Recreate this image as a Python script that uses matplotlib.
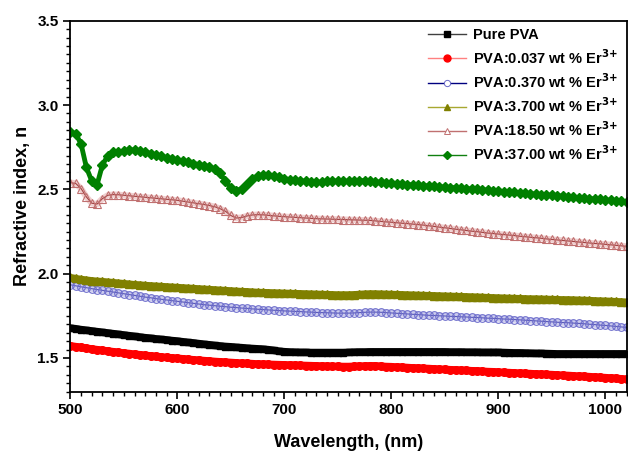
import numpy as np
import matplotlib
matplotlib.use('Agg')
import matplotlib.pyplot as plt
from matplotlib.ticker import MultipleLocator
from matplotlib.lines import Line2D

plt.rcParams['font.family'] = ['Liberation Sans', 'DejaVu Sans']
plt.rcParams['font.weight'] = 'bold'
plt.rcParams['mathtext.default'] = 'bf'

# wavelength grid (nm), 5 nm steps
wavelength = np.arange(500, 1021, 5)

pure_pva = [1.677, 1.673, 1.668, 1.664, 1.660, 1.656, 1.652, 1.648, 1.644, 1.640,
            1.636, 1.632, 1.628, 1.624, 1.620, 1.617, 1.613, 1.610, 1.607, 1.603,
            1.600, 1.596, 1.592, 1.589, 1.585, 1.581, 1.578, 1.574, 1.571, 1.568,
            1.566, 1.563, 1.561, 1.558, 1.556, 1.554, 1.552, 1.549, 1.545, 1.540,
            1.537, 1.535, 1.534, 1.533, 1.533, 1.532, 1.532, 1.532, 1.532, 1.532,
            1.532, 1.532, 1.533, 1.534, 1.535, 1.535, 1.536, 1.536, 1.536, 1.536,
            1.536, 1.536, 1.536, 1.536, 1.536, 1.536, 1.536, 1.536, 1.536, 1.536,
            1.536, 1.535, 1.535, 1.535, 1.534, 1.534, 1.534, 1.533, 1.533, 1.533,
            1.533, 1.532, 1.531, 1.530, 1.530, 1.529, 1.528, 1.527, 1.527, 1.526,
            1.525, 1.524, 1.524, 1.524, 1.524, 1.524, 1.524, 1.524, 1.524, 1.524,
            1.524, 1.524, 1.524, 1.524, 1.524]

er_0037 = [1.572, 1.567, 1.563, 1.558, 1.553, 1.549, 1.545, 1.541, 1.537, 1.533,
           1.529, 1.526, 1.522, 1.519, 1.515, 1.512, 1.509, 1.506, 1.503, 1.500,
           1.498, 1.495, 1.492, 1.489, 1.487, 1.484, 1.482, 1.479, 1.477, 1.475,
           1.473, 1.471, 1.469, 1.468, 1.466, 1.464, 1.463, 1.462, 1.461, 1.460,
           1.459, 1.458, 1.457, 1.456, 1.455, 1.454, 1.453, 1.452, 1.451, 1.450,
           1.450, 1.449, 1.449, 1.450, 1.451, 1.452, 1.453, 1.453, 1.451, 1.449,
           1.448, 1.446, 1.445, 1.443, 1.441, 1.440, 1.438, 1.437, 1.435, 1.433,
           1.432, 1.430, 1.429, 1.427, 1.426, 1.424, 1.423, 1.421, 1.419, 1.418,
           1.416, 1.414, 1.413, 1.411, 1.410, 1.408, 1.407, 1.405, 1.404, 1.402,
           1.401, 1.399, 1.397, 1.396, 1.394, 1.392, 1.391, 1.389, 1.387, 1.385,
           1.383, 1.381, 1.379, 1.376, 1.374]

er_0370 = [1.934, 1.928, 1.922, 1.917, 1.911, 1.906, 1.901, 1.896, 1.891, 1.886,
           1.881, 1.876, 1.871, 1.866, 1.861, 1.857, 1.852, 1.848, 1.844, 1.840,
           1.836, 1.832, 1.828, 1.824, 1.820, 1.816, 1.813, 1.810, 1.807, 1.804,
           1.801, 1.799, 1.796, 1.794, 1.791, 1.789, 1.787, 1.785, 1.783, 1.781,
           1.779, 1.778, 1.776, 1.775, 1.773, 1.772, 1.770, 1.769, 1.768, 1.767,
           1.766, 1.766, 1.766, 1.767, 1.769, 1.771, 1.772, 1.772, 1.771, 1.769,
           1.767, 1.765, 1.763, 1.761, 1.759, 1.757, 1.755, 1.753, 1.752, 1.750,
           1.749, 1.747, 1.746, 1.744, 1.743, 1.741, 1.740, 1.738, 1.736, 1.735,
           1.733, 1.731, 1.730, 1.728, 1.726, 1.724, 1.722, 1.720, 1.718, 1.716,
           1.714, 1.712, 1.710, 1.709, 1.707, 1.705, 1.703, 1.700, 1.698, 1.695,
           1.693, 1.690, 1.687, 1.684, 1.681]

er_3700 = [1.978, 1.972, 1.967, 1.963, 1.959, 1.956, 1.954, 1.951, 1.948, 1.945,
           1.942, 1.939, 1.936, 1.934, 1.931, 1.929, 1.927, 1.925, 1.923, 1.921,
           1.919, 1.917, 1.915, 1.913, 1.911, 1.909, 1.907, 1.905, 1.903, 1.901,
           1.899, 1.897, 1.895, 1.894, 1.892, 1.890, 1.889, 1.888, 1.887, 1.886,
           1.885, 1.884, 1.883, 1.882, 1.881, 1.880, 1.879, 1.878, 1.877, 1.876,
           1.875, 1.875, 1.875, 1.876, 1.878, 1.880, 1.881, 1.881, 1.880, 1.879,
           1.878, 1.877, 1.876, 1.875, 1.874, 1.873, 1.872, 1.871, 1.870, 1.869,
           1.868, 1.867, 1.866, 1.865, 1.864, 1.863, 1.862, 1.861, 1.859, 1.858,
           1.857, 1.856, 1.855, 1.854, 1.853, 1.852, 1.851, 1.851, 1.850, 1.849,
           1.848, 1.847, 1.846, 1.846, 1.845, 1.844, 1.843, 1.842, 1.840, 1.839,
           1.838, 1.837, 1.835, 1.834, 1.832]

er_1850 = [2.540, 2.535, 2.505, 2.455, 2.418, 2.413, 2.445, 2.465, 2.469, 2.468,
           2.465, 2.462, 2.459, 2.456, 2.453, 2.450, 2.447, 2.444, 2.441, 2.438,
           2.435, 2.430, 2.425, 2.420, 2.415, 2.410, 2.404, 2.397, 2.385, 2.370,
           2.345, 2.330, 2.333, 2.342, 2.348, 2.350, 2.349, 2.346, 2.343, 2.340,
           2.338, 2.336, 2.334, 2.332, 2.330, 2.328, 2.326, 2.325, 2.324, 2.323,
           2.322, 2.321, 2.320, 2.319, 2.318, 2.317, 2.316, 2.313, 2.310, 2.307,
           2.305, 2.302, 2.299, 2.297, 2.294, 2.291, 2.288, 2.284, 2.280, 2.276,
           2.272, 2.268, 2.264, 2.260, 2.256, 2.252, 2.249, 2.245, 2.241, 2.238,
           2.235, 2.232, 2.229, 2.226, 2.222, 2.219, 2.216, 2.213, 2.210, 2.206,
           2.203, 2.200, 2.197, 2.194, 2.191, 2.188, 2.185, 2.182, 2.179, 2.177,
           2.174, 2.171, 2.168, 2.165, 2.162]

er_3700b = [2.840, 2.830, 2.770, 2.630, 2.550, 2.528, 2.645, 2.700, 2.724, 2.720,
            2.728, 2.735, 2.732, 2.726, 2.720, 2.712, 2.703, 2.695, 2.688, 2.680,
            2.672, 2.666, 2.660, 2.653, 2.647, 2.641, 2.635, 2.618, 2.595, 2.548,
            2.508, 2.489, 2.505, 2.529, 2.560, 2.580, 2.586, 2.584, 2.579, 2.572,
            2.564, 2.557, 2.553, 2.550, 2.548, 2.546, 2.543, 2.542, 2.548, 2.549,
            2.549, 2.548, 2.548, 2.548, 2.550, 2.552, 2.550, 2.545, 2.541, 2.539,
            2.537, 2.534, 2.531, 2.528, 2.526, 2.524, 2.522, 2.520, 2.518, 2.515,
            2.513, 2.511, 2.509, 2.506, 2.504, 2.502, 2.500, 2.497, 2.495, 2.492,
            2.490, 2.487, 2.485, 2.482, 2.479, 2.477, 2.474, 2.472, 2.469, 2.467,
            2.464, 2.461, 2.459, 2.456, 2.453, 2.450, 2.448, 2.445, 2.442, 2.440,
            2.437, 2.434, 2.432, 2.429, 2.426]

labels = ['Pure PVA',
          'PVA:0.037 wt % Er$^{3{+}}$',
          'PVA:0.370 wt % Er$^{3{+}}$',
          'PVA:3.700 wt % Er$^{3{+}}$',
          'PVA:18.50 wt % Er$^{3{+}}$',
          'PVA:37.00 wt % Er$^{3{+}}$']

fig = plt.figure(figsize=(6.28, 4.51), dpi=100)
ax = fig.add_axes([0.112, 0.1315, 0.886, 0.8225])

# thick underlay so the dense data reads as a continuous band
ax.plot(wavelength, pure_pva, color='black', lw=5.5)
ax.plot(wavelength, pure_pva, ls='none', marker='s', ms=5, color='black')
ax.plot(wavelength, er_0037, color='red', lw=5.5)
ax.plot(wavelength, er_0037, ls='none', marker='o', ms=5.5, color='red')
ax.plot(wavelength, er_0370, color='#ccccee', lw=4.5)
ax.plot(wavelength, er_0370, color='#5a5ab8', lw=0.8, marker='o', ms=5.5,
        mfc='none', mec='#6e6ecc', mew=0.8)
ax.plot(wavelength, er_3700, color='#808000', lw=5)
ax.plot(wavelength, er_3700, ls='none', marker='^', ms=5.5, color='#808000')
ax.plot(wavelength, er_1850, color='#f0d0d0', lw=4.5)
ax.plot(wavelength, er_1850, color='#a04040', lw=0.8, marker='^', ms=6,
        mfc='none', mec='#c07070', mew=0.8)
ax.plot(wavelength, er_3700b, color='#008000', lw=3.5)
ax.plot(wavelength, er_3700b, ls='none', marker='D', ms=5.5, color='#008000')

ax.set_xlim(500, 1020)
ax.set_ylim(1.3, 3.5)
ax.xaxis.set_major_locator(MultipleLocator(100))
ax.xaxis.set_minor_locator(MultipleLocator(10))
ax.yaxis.set_major_locator(MultipleLocator(0.5))
ax.yaxis.set_minor_locator(MultipleLocator(0.05))
ax.tick_params(which='major', direction='out', length=5, width=1.2, labelsize=11)
ax.tick_params(which='minor', direction='out', length=3, width=1)
for s in ax.spines.values():
    s.set_linewidth(1.3)

ax.set_xlabel('Wavelength, (nm)', fontsize=13, fontweight='bold', labelpad=12)
ax.set_ylabel('Refractive index, n', fontsize=13, fontweight='bold', labelpad=4.5)

# legend handles: thin line + symbol, as in the original
handles = [
    Line2D([], [], color='#404040', lw=1, marker='s', ms=4, mfc='black', mec='black'),
    Line2D([], [], color='#ff8080', lw=1, marker='o', ms=5, mfc='red', mec='red'),
    Line2D([], [], color='#000080', lw=1, marker='o', ms=4.5, mfc='white',
           mec='#6a6ac8', mew=0.7),
    Line2D([], [], color='#a8a830', lw=1, marker='^', ms=5, mfc='#808000', mec='#808000'),
    Line2D([], [], color='#c07070', lw=1, marker='^', ms=5, mfc='white',
           mec='#c07070', mew=0.7),
    Line2D([], [], color='#108010', lw=1, marker='D', ms=4, mfc='#008000', mec='#008000'),
]
ax.legend(handles, labels, loc='upper right', bbox_to_anchor=(0.995, 0.995),
          frameon=False, fontsize=10.5, handlelength=2.6,
          labelspacing=0.37, handletextpad=0.45, borderaxespad=0)

fig.savefig('out.png', dpi=100)
